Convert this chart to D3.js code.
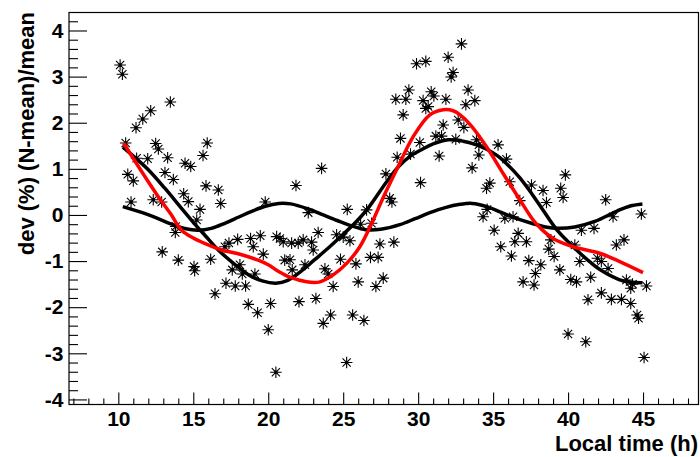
<!DOCTYPE html>
<html lang="en">
<head>
<meta charset="UTF-8">
<script src="https://cdnjs.cloudflare.com/ajax/libs/d3/7.9.0/d3.min.js"></script>
<title>dev vs local time</title>
<style>
    body { margin: 0; padding: 0; background: #fff; }
    svg { display: block; font-family: "Liberation Sans", Arial, Helvetica, sans-serif; font-weight: bold; }
</style>
</head>
<body>
<div id="chart"></div>
<script>
// axis ticks
const xTicks = [10, 15, 20, 25, 30, 35, 40, 45];
const yTicks = [-4, -3, -2, -1, 0, 1, 2, 3, 4];

// measured points [local time, dev %]
const points = [
    [10.12, 3.25], [10.27, 3.05], [10.49, 1.56], [10.63, 0.88], [10.85, 0.28], [11.0, 0.74],
    [11.18, 1.89], [11.22, 1.23], [11.63, 2.08], [11.96, 1.22], [12.16, 2.26], [12.33, 0.33],
    [12.49, 1.55], [12.67, 1.43], [12.89, 0.28], [12.93, -0.80], [13.11, 0.92], [13.29, 1.24],
    [13.47, 2.45], [13.67, 0.77], [13.83, -0.25], [13.8, -0.38], [14.0, -0.98], [14.36, 0.46],
    [14.45, 1.12], [14.67, 0.29], [14.83, 1.05], [15.05, -1.12], [15.09, -1.21], [15.23, -0.11],
    [15.45, 0.12], [15.65, 1.29], [15.85, 0.63], [15.93, 1.56], [16.16, -0.96], [16.45, -1.71],
    [16.67, 0.54], [16.83, 0.25], [17.11, -0.69], [17.18, -1.48], [17.38, -0.61], [17.6, -1.19],
    [17.8, -1.54], [17.96, -0.53], [18.11, -1.08], [18.27, -1.28], [18.49, -1.54], [18.67, -1.94],
    [18.82, -0.51], [19.0, -0.69], [19.11, -1.28], [19.29, -2.12], [19.47, -0.45], [19.67, -0.85],
    [19.8, 0.28], [20.0, -2.49], [20.16, -1.92], [20.51, -3.41], [20.56, -0.47], [20.78, -0.51],
    [21.0, -0.58], [21.1, -0.98], [21.45, -0.97], [21.56, -0.61], [21.6, -1.19], [21.85, 0.64],
    [22.0, -0.61], [22.05, -1.88], [22.33, -0.54], [22.45, -1.08], [22.67, 0.05], [22.89, -0.59],
    [23.0, -0.76], [23.18, -1.81], [23.33, -0.38], [23.56, 1.01], [23.67, -2.35], [23.78, -1.17],
    [24.0, -1.28], [24.16, -2.17], [24.33, -1.55], [24.56, -0.43], [24.82, -0.96], [25.0, -0.48],
    [25.23, -3.2], [25.27, 0.12], [25.45, -0.56], [25.63, -2.17], [25.85, -1.06], [26.0, -1.45],
    [26.16, -0.2], [26.38, -2.29], [26.56, 0.11], [26.82, -0.92], [26.89, -0.18], [27.18, -1.55],
    [27.33, -0.92], [27.45, -0.63], [27.67, -1.37], [27.85, 0.89], [28.1, 0.36], [28.25, 0.28],
    [28.38, -0.59], [28.51, 2.51], [28.6, 1.25], [28.82, 1.66], [29.0, 2.17], [29.18, 2.51],
    [29.38, 2.71], [29.49, 1.32], [29.89, 3.28], [30.11, 1.57], [30.16, 0.7], [30.33, 2.48],
    [30.51, 3.33], [30.51, 2.31], [30.67, 2.35], [30.87, 2.67], [31.05, 2.58], [31.18, 1.71],
    [31.4, 1.28], [31.56, 1.71], [31.67, 1.95], [31.85, 2.51], [32.0, 3.42], [32.2, 2.99],
    [32.33, 3.09], [32.51, 1.64], [32.67, 2.06], [32.89, 3.71], [33.05, 1.9], [33.18, 2.39],
    [33.33, 2.71], [33.6, 1.02], [33.78, 2.48], [33.89, 1.63], [34.05, 1.52], [34.05, 1.3],
    [34.33, -0.04], [34.56, 0.58], [34.6, 0.12], [34.78, 0.69], [35.07, -0.33], [35.33, 1.52],
    [35.51, -0.69], [35.78, -0.07], [35.89, 1.21], [36.11, 0.72], [36.22, -0.89], [36.33, -0.04],
    [36.45, -0.58], [36.67, -0.40], [36.78, 0.31], [37.0, -1.45], [37.22, -0.58], [37.38, -0.99],
    [37.56, 0.65], [37.73, -1.52], [37.82, -1.27], [38.18, -1.08], [38.33, 0.53], [38.56, 0.27],
    [38.71, -0.74], [38.85, -0.54], [39.07, -0.9], [39.45, -1.19], [39.51, 0.58], [39.67, 0.38],
    [39.82, 0.87], [40.0, -2.58], [40.18, -1.40], [40.45, -0.65], [40.56, -1.45], [40.78, -1.01],
    [40.89, -0.33], [41.18, -2.75], [41.33, -1.84], [41.51, -1.35], [41.73, -0.29], [41.96, -0.94],
    [42.22, -1.01], [42.22, -1.69], [42.51, 0.33], [42.67, -1.16], [42.89, -1.83], [43.0, -0.04],
    [43.22, -0.65], [43.56, -1.83], [43.73, -0.54], [43.89, -1.41], [44.18, -1.59], [44.3, -1.5],
    [44.18, -1.92], [44.6, -2.17], [44.7, -2.24], [44.89, 0.02], [45.07, -3.09], [45.23, -1.54]
];

// fitted curves
const fitSmall = [
    [10.3, 0.18], [11.5, 0.06], [12.5, -0.06], [13.56, -0.2], [14.5, -0.3], [15.33, -0.33],
    [16.2, -0.29], [17.1, -0.18], [18.0, -0.05], [18.9, 0.08], [19.8, 0.19], [20.7, 0.25],
    [21.5, 0.24], [22.67, 0.13], [23.67, 0.0], [24.6, -0.12], [25.6, -0.24], [26.5, -0.32],
    [27.5, -0.31], [28.78, -0.21], [29.8, -0.08], [30.78, 0.05], [31.8, 0.16], [32.8, 0.23],
    [33.6, 0.25], [34.6, 0.18], [35.5, 0.06], [36.5, -0.07], [37.56, -0.18], [38.5, -0.26],
    [39.33, -0.29], [40.45, -0.26], [41.78, -0.14], [43.3, 0.09], [44.2, 0.2], [44.96, 0.24]
];
const fitLarge = [
    [10.3, 1.47], [11.2, 1.22], [12.0, 0.98], [13.1, 0.58], [14.2, 0.15], [15.0, -0.16],
    [15.8, -0.45], [16.7, -0.77], [17.8, -1.08], [18.7, -1.3], [19.6, -1.43], [20.5, -1.48],
    [21.3, -1.42], [22.2, -1.22], [23.1, -0.97], [24.1, -0.69], [25.0, -0.42], [25.8, -0.17],
    [26.6, 0.12], [27.9, 0.72], [28.7, 1.05], [29.5, 1.28], [30.3, 1.43], [31.0, 1.54],
    [32.0, 1.63], [33.0, 1.6], [33.8, 1.53], [34.6, 1.42], [35.3, 1.28], [36.0, 1.08],
    [36.8, 0.8], [37.6, 0.45], [38.3, 0.12], [39.2, -0.3], [40.0, -0.58], [40.8, -0.83],
    [41.5, -1.03], [42.2, -1.2], [43.4, -1.4], [44.2, -1.46], [44.96, -1.47]
];
const fitRed = [
    [10.35, 1.56], [11.5, 0.97], [12.7, 0.38], [13.5, 0.02], [14.22, -0.33], [15.0, -0.5],
    [15.78, -0.62], [16.89, -0.76], [18.0, -0.84], [19.33, -0.98], [20.0, -1.08], [20.67, -1.22],
    [21.45, -1.35], [22.56, -1.45], [23.45, -1.45], [24.33, -1.3], [25.23, -1.05], [26.11, -0.69],
    [27.0, -0.11], [27.67, 0.38], [28.56, 0.98], [29.67, 1.7], [30.78, 2.17], [31.67, 2.28],
    [32.33, 2.26], [32.8, 2.17], [33.5, 1.95], [34.56, 1.48], [35.67, 0.9], [36.78, 0.33],
    [37.67, -0.11], [38.2, -0.3], [39.0, -0.51], [40.33, -0.69], [42.11, -0.83], [43.45, -1.01],
    [45.0, -1.25]
];

const W = 700, H = 457;
const frame = { left: 69, top: 12.5, right: 698.5, bottom: 404.5 };

const svg = d3.select("#chart").append("svg").attr("width", W).attr("height", H);

const x = d3.scaleLinear().domain([6.71, 48.7]).range([frame.left, frame.right]);
const y = d3.scaleLinear().domain([-4.11, 4.39]).range([frame.bottom, frame.top]);

// minor ticks
const xMinor = d3.range(7, 49).filter(v => v % 5 !== 0);
const yMinor = d3.range(-40, 44, 2).map(v => v / 10).filter(v => Math.abs(v - Math.round(v)) > 1e-6);

svg.append("g")
    .attr("transform", `translate(0,${frame.bottom})`)
    .call(d3.axisBottom(x).tickValues(xMinor).tickSize(-6).tickFormat(""));
svg.append("g")
    .attr("transform", `translate(${frame.left},0)`)
    .call(d3.axisLeft(y).tickValues(yMinor).tickSize(-9).tickFormat(""));

const xAxis = svg.append("g")
    .attr("transform", `translate(0,${frame.bottom})`)
    .call(d3.axisBottom(x).tickValues(xTicks).tickSize(-12).tickPadding(7).tickFormat(d => String(d)));
const yAxis = svg.append("g")
    .attr("transform", `translate(${frame.left},0)`)
    .call(d3.axisLeft(y).tickValues(yTicks).tickSize(-18).tickPadding(5.5).tickFormat(d => String(d)));

svg.selectAll(".domain").remove();
svg.selectAll(".tick line").attr("stroke", "#000").attr("stroke-width", 1.1);
[xAxis, yAxis].forEach(a => a.selectAll("text")
    .attr("font-size", 21).attr("font-weight", "bold")
    .attr("font-family", "'Liberation Sans', Arial, Helvetica, sans-serif").attr("fill", "#000"));

// frame
svg.append("rect")
    .attr("x", frame.left).attr("y", frame.top)
    .attr("width", frame.right - frame.left).attr("height", frame.bottom - frame.top)
    .attr("fill", "none").attr("stroke", "#000").attr("stroke-width", 1.2);

// asterisk markers
const star = "M-5.8,0H5.8M0,-5.8V5.8M-4.1,-4.1L4.1,4.1M-4.1,4.1L4.1,-4.1";
const marks = svg.append("g");
marks.selectAll("path")
    .data(points)
    .join("path")
    .attr("transform", d => `translate(${x(d[0])},${y(d[1])})`)
    .attr("d", star)
    .attr("stroke", "#000").attr("stroke-width", 1.1).attr("fill", "none");
marks.selectAll("rect")
    .data(points)
    .join("rect")
    .attr("x", d => x(d[0]) - 1.5).attr("y", d => y(d[1]) - 1.5)
    .attr("width", 3).attr("height", 3).attr("fill", "#000");

// fit lines
const line = d3.line().x(d => x(d[0])).y(d => y(d[1])).curve(d3.curveCatmullRom);
svg.append("path").datum(fitSmall).attr("d", line)
    .attr("fill", "none").attr("stroke", "#000").attr("stroke-width", 3.5);
svg.append("path").datum(fitLarge).attr("d", line)
    .attr("fill", "none").attr("stroke", "#000").attr("stroke-width", 3.5);
svg.append("path").datum(fitRed).attr("d", line)
    .attr("fill", "none").attr("stroke", "#ff0000").attr("stroke-width", 3.5);

// axis titles
svg.append("text")
    .attr("x", 698).attr("y", 450.5)
    .attr("text-anchor", "end")
    .attr("font-size", 22)
    .text("Local time (h)");
svg.append("text")
    .attr("transform", "translate(34,12) rotate(-90)")
    .attr("text-anchor", "end")
    .attr("font-size", 22)
    .text("dev (%) (N-mean)/mean");
</script>
</body>
</html>
